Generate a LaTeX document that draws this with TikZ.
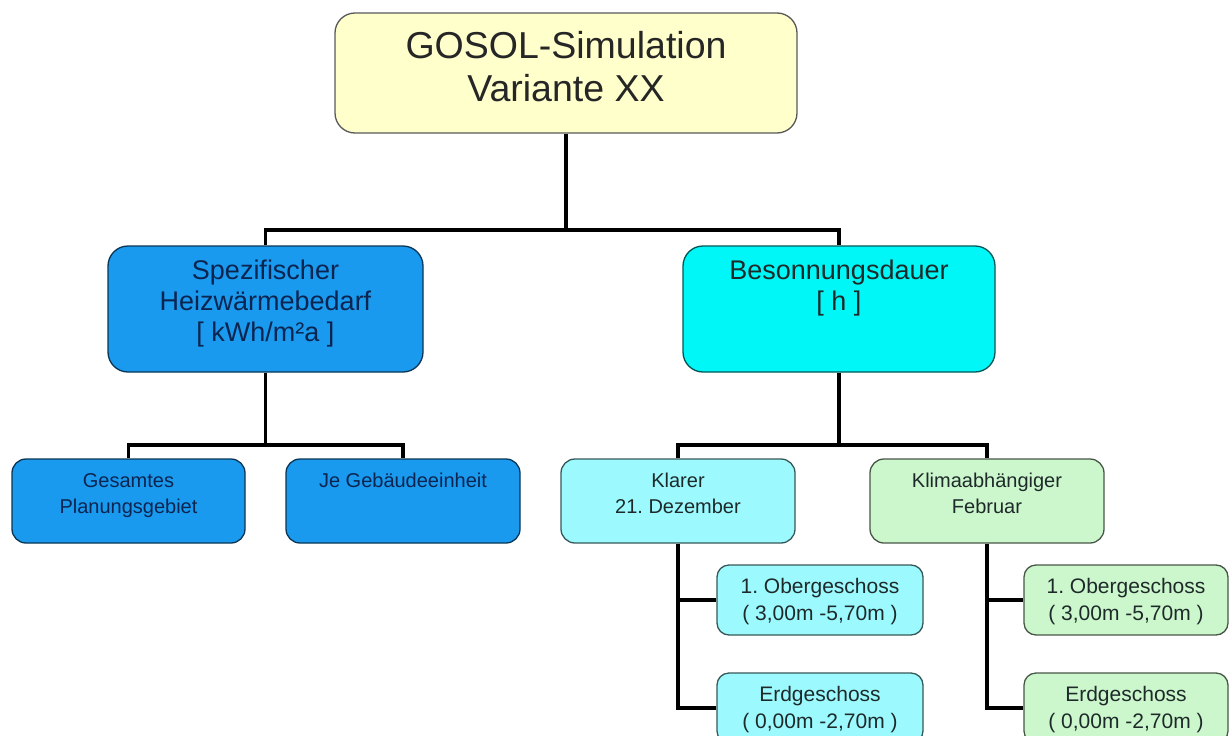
\documentclass[tikz,border=0pt]{standalone}
\usepackage{fontspec}
\setmainfont{Liberation Sans}
\frenchspacing
\definecolor{topfill}{HTML}{FFFFCC}
\definecolor{bluefill}{HTML}{1A9AEF}
\definecolor{cyanfill}{HTML}{00F7F7}
\definecolor{lcyanfill}{HTML}{9CFAFF}
\definecolor{greenfill}{HTML}{CCF7CC}
\definecolor{navytext}{HTML}{0B2550}
\definecolor{darktext}{HTML}{1E2A2A}
\newcommand{\boxtxt}[4]{\parbox[c][#2][t]{#1}{\centering\frenchspacing\rule{0pt}{#3}#4}}
\tikzset{
  boxbase/.style={draw, inner sep=0pt, line width=1.3pt},
  topbox/.style={boxbase, rounded corners=20pt, fill=topfill, draw=black!65, text=black!85, font=\fontsize{37.5}{43}\selectfont},
  lvltwo/.style={boxbase, rounded corners=20pt, font=\fontsize{27}{31}\selectfont},
  lvlthree/.style={boxbase, rounded corners=14pt, font=\fontsize{20}{26}\selectfont},
  lvlfour/.style={boxbase, rounded corners=12pt, font=\fontsize{21}{27}\selectfont},
  bluebox/.style={fill=bluefill, draw=bluefill!35!black, text=navytext},
  cyanbox/.style={fill=cyanfill, draw=cyanfill!35!black, text=darktext},
  lcyanbox/.style={fill=lcyanfill, draw=lcyanfill!35!black, text=darktext},
  greenbox/.style={fill=greenfill, draw=greenfill!35!black, text=darktext},
  conn/.style={line width=3.5pt, black},
}
\begin{document}
\begin{tikzpicture}[x=1pt,y=-1pt]
\useasboundingbox (0,0) rectangle (1229,736);
\clip (0,0) rectangle (1229,736);
% level 1
\node[topbox] (top) at (566,73) {\boxtxt{462pt}{120pt}{45pt}{GOSOL-Simulation\\Variante XX}};
% level 2
\node[lvltwo, bluebox] (spez) at (265.5,309) {\boxtxt{315pt}{126pt}{33pt}{Spezifischer\\Heizwärmebedarf\\{}[ kWh/m²a ]}};
\node[lvltwo, cyanbox] (beson) at (839,309) {\boxtxt{312pt}{126pt}{33pt}{Besonnungsdauer\\{}[ h ]}};
% level 3
\node[lvlthree, bluebox] (ges) at (128.5,501) {\boxtxt{233pt}{84pt}{28pt}{Gesamtes\\Planungsgebiet}};
\node[lvlthree, bluebox] (je) at (403,501) {\boxtxt{234pt}{84pt}{28pt}{Je Gebäudeeinheit}};
\node[lvlthree, lcyanbox] (kla) at (678,501) {\boxtxt{234pt}{84pt}{28pt}{Klarer\\21. Dezember}};
\node[lvlthree, greenbox] (kli) at (987,501) {\boxtxt{234pt}{84pt}{28pt}{Klimaabhängiger\\Februar}};
% level 4
\node[lvlfour, lcyanbox] (oberA) at (820,600) {\boxtxt{206pt}{70pt}{28pt}{1. Obergeschoss\\( 3,00m -5,70m )}};
\node[lvlfour, lcyanbox] (erdA) at (820,708) {\boxtxt{206pt}{70pt}{28pt}{Erdgeschoss\\( 0,00m -2,70m )}};
\node[lvlfour, greenbox] (oberB) at (1126,600) {\boxtxt{204pt}{70pt}{28pt}{1. Obergeschoss\\( 3,00m -5,70m )}};
\node[lvlfour, greenbox] (erdB) at (1126,708) {\boxtxt{204pt}{70pt}{28pt}{Erdgeschoss\\( 0,00m -2,70m )}};
% junctions
\coordinate (jA) at (566,230);
\coordinate (jB) at (265.5,445);
\coordinate (jC) at (839,445);
% connectors
\draw[conn] (top.south) -- (jA);
\draw[conn] (spez.north) |- (jA) -| (beson.north);
\draw[conn] (spez.south) -- (jB);
\draw[conn] (ges.north) |- (jB) -| (je.north);
\draw[conn] (beson.south) -- (jC);
\draw[conn] (kla.north) |- (jC) -| (kli.north);
\draw[conn] (kla.south) |- (oberA.west);
\draw[conn] (kla.south) |- (erdA.west);
\draw[conn] (kli.south) |- (oberB.west);
\draw[conn] (kli.south) |- (erdB.west);
\end{tikzpicture}
\end{document}
